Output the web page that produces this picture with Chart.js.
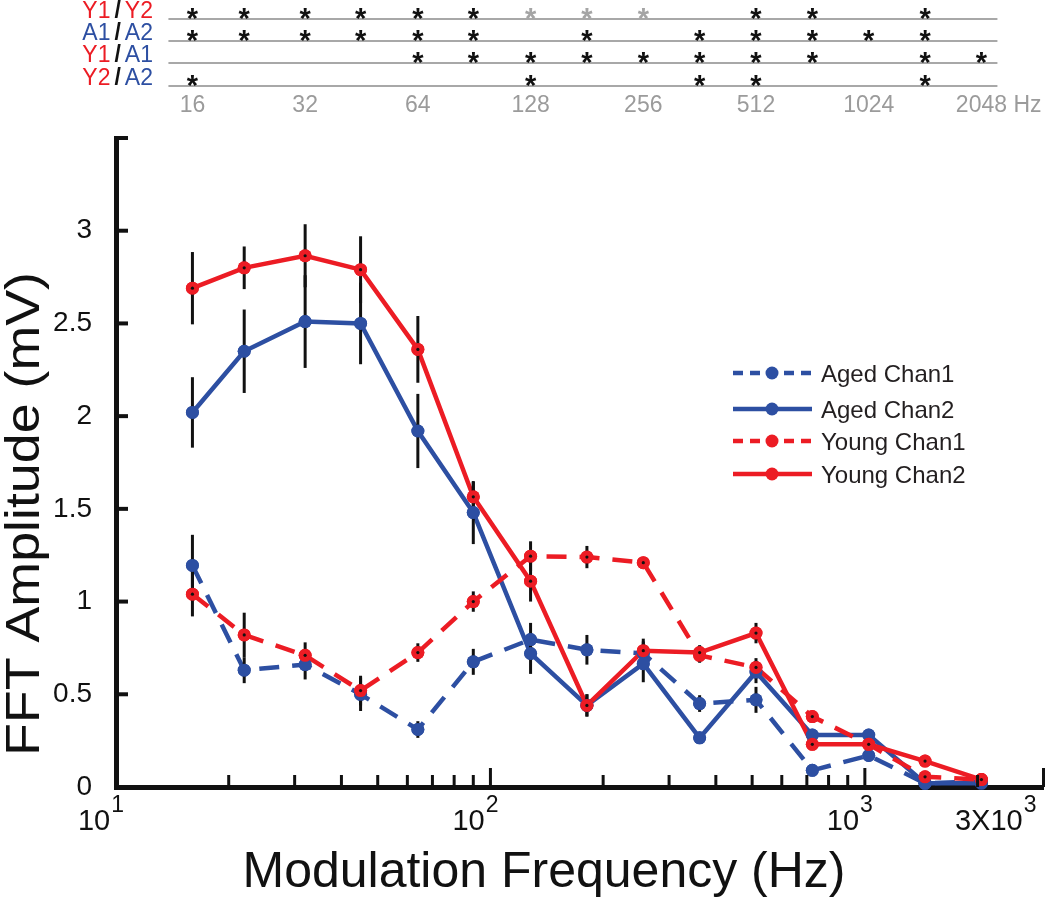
<!DOCTYPE html>
<html>
<head>
<meta charset="utf-8">
<script src="https://cdn.jsdelivr.net/npm/chart.js@4.4.1/dist/chart.umd.min.js"></script>
<style>
html,body{margin:0;padding:0;background:#fff;}
canvas{display:block;}
</style>
</head>
<body>
<canvas id="c" width="1050" height="899"></canvas>
<script>
// ---------------- DATA ----------------
const freqs = [16, 22, 32, 45, 64, 90, 128, 181, 256, 362, 512, 724, 1024, 1448, 2048];

const agedChan1     = [1.195, 0.63, 0.66, 0.50, 0.31, 0.675, 0.795, 0.74, 0.72, 0.45, 0.47, 0.09, 0.17, 0.02, 0.03];
const agedChan1Err  = [0.165, 0.07, 0.08, 0.09, 0.045, 0.07, 0.09, 0.08, 0.08, 0.045, 0.07, 0.02, 0.02, 0.01, 0.01];
const agedChan2     = [2.02, 2.35, 2.51, 2.50, 1.92, 1.48, 0.72, 0.44, 0.665, 0.265, 0.62, 0.28, 0.28, 0.02, 0.02];
const agedChan2Err  = [0.19, 0.225, 0.25, 0.22, 0.20, 0.17, 0.11, 0.06, 0.10, 0.03, 0.06, 0.02, 0.03, 0.01, 0.01];
const youngChan1    = [1.04, 0.82, 0.71, 0.52, 0.725, 1.00, 1.245, 1.24, 1.21, 0.71, 0.645, 0.38, 0.23, 0.055, 0.04];
const youngChan1Err = [0.12, 0.12, 0.07, 0.08, 0.05, 0.055, 0.08, 0.06, 0.03, 0.04, 0.05, 0.02, 0.02, 0.01, 0.01];
const youngChan2    = [2.69, 2.80, 2.865, 2.79, 2.36, 1.565, 1.11, 0.44, 0.735, 0.725, 0.83, 0.23, 0.23, 0.14, 0.04];
const youngChan2Err = [0.195, 0.115, 0.17, 0.18, 0.18, 0.08, 0.11, 0.06, 0.05, 0.04, 0.055, 0.02, 0.02, 0.01, 0.01];

const seriesLabels = ['Aged Chan1', 'Aged Chan2', 'Young Chan1', 'Young Chan2'];

const yTickValues = [0, 0.5, 1, 1.5, 2, 2.5, 3, 3.5];
const xMajorTicks = [10, 100, 1000, 3000];
const xTickBase   = ['10', '10', '10', '3X10'];
const xTickExp    = ['1', '2', '3', '3'];
const xMinorTicks = [20, 30, 40, 50, 60, 70, 80, 90, 200, 300, 400, 500, 600, 700, 800, 900, 2000];

// significance table: 1 = black asterisk, 2 = grey asterisk, 0 = none
const sigRowLabels = [['Y1', 'Y2'], ['A1', 'A2'], ['Y1', 'A1'], ['Y2', 'A2']];
const sigY1Y2 = [1, 1, 1, 1, 1, 1, 2, 2, 2, 0, 1, 1, 0, 1, 0];
const sigA1A2 = [1, 1, 1, 1, 1, 1, 0, 1, 0, 1, 1, 1, 1, 1, 0];
const sigY1A1 = [0, 0, 0, 0, 1, 1, 1, 1, 1, 1, 1, 1, 0, 1, 1];
const sigY2A2 = [1, 0, 0, 0, 0, 0, 1, 0, 0, 1, 1, 0, 0, 1, 0];
const tableTickFreqs  = [16, 32, 64, 128, 256, 512, 1024, 2048];
const tableTickLabels = ['16', '32', '64', '128', '256', '512', '1024', '2048'];

// ---------------- STYLE ----------------
const FONT = "'Liberation Sans', Arial, Helvetica, sans-serif";
const BLUE = '#2D4FA2';
const RED = '#EC1C24';
const GREY = '#9B9B9B';
const INK = '#111111';

function mk(label, vals, errs, color, dashed, order) {
  return {
    label,
    data: freqs.map((f, i) => ({ x: f, y: vals[i] })),
    err: errs,
    dashed,
    borderColor: color,
    backgroundColor: color,
    borderWidth: 4.5,
    borderDash: dashed ? [20, 13] : [],
    borderCapStyle: 'butt',
    pointRadius: 6.5,
    pointHoverRadius: 6.5,
    pointBackgroundColor: color,
    pointBorderColor: color,
    pointBorderWidth: 0,
    tension: 0,
    fill: false,
    order
  };
}

const datasets = [
  mk(seriesLabels[0], agedChan1, agedChan1Err, BLUE, true, 3),
  mk(seriesLabels[1], agedChan2, agedChan2Err, BLUE, false, 2),
  mk(seriesLabels[2], youngChan1, youngChan1Err, RED, true, 1),
  mk(seriesLabels[3], youngChan2, youngChan2Err, RED, false, 0)
];

// error bars + markers on top
const overlay = {
  id: 'overlay',
  afterDatasetsDraw(chart) {
    const ctx = chart.ctx, xs = chart.scales.x, ys = chart.scales.y;
    ctx.save();
    ctx.strokeStyle = INK;
    ctx.lineWidth = 3;
    ctx.setLineDash([]);
    chart.data.datasets.forEach(ds => {
      ds.data.forEach((p, i) => {
        const e = ds.err[i];
        const x = xs.getPixelForValue(p.x);
        ctx.beginPath();
        ctx.moveTo(x, ys.getPixelForValue(p.y - e));
        ctx.lineTo(x, ys.getPixelForValue(p.y + e));
        ctx.stroke();
      });
    });
    const metas = chart.getSortedVisibleDatasetMetas();
    for (let k = metas.length - 1; k >= 0; k--) {
      const m = metas[k];
      const ds = chart.data.datasets[m.index];
      m.data.forEach(pt => {
        pt.draw(ctx, chart.chartArea);
        if (ds.borderColor === RED) {
          ctx.fillStyle = INK;
          ctx.beginPath();
          ctx.arc(pt.x, pt.y, 1.6, 0, Math.PI * 2);
          ctx.fill();
        }
      });
    }
    ctx.restore();
  }
};

// axes decorations, titles, legend, significance table
const decor = {
  id: 'decor',
  afterDraw(chart) {
    const ctx = chart.ctx, xs = chart.scales.x, ys = chart.scales.y;
    const area = chart.chartArea;
    ctx.save();
    ctx.setLineDash([]);
    // y ticks (inward)
    ctx.strokeStyle = INK;
    ctx.lineWidth = 4;
    yTickValues.forEach(v => {
      if (v === 0) return;
      const y = ys.getPixelForValue(v);
      ctx.beginPath();
      ctx.moveTo(area.left - 2, y);
      ctx.lineTo(area.left + 12, y);
      ctx.stroke();
    });
    // x ticks (inward)
    ctx.lineWidth = 3;
    xMinorTicks.forEach(v => {
      const x = xs.getPixelForValue(v);
      ctx.beginPath();
      ctx.moveTo(x, area.bottom);
      ctx.lineTo(x, area.bottom - 12);
      ctx.stroke();
    });
    xMajorTicks.forEach(v => {
      if (v === 10) return;
      const x = xs.getPixelForValue(v);
      ctx.beginPath();
      ctx.moveTo(x, area.bottom);
      ctx.lineTo(x, area.bottom - 19);
      ctx.stroke();
    });
    // x tick labels with superscripts
    ctx.fillStyle = INK;
    ctx.textBaseline = 'alphabetic';
    xMajorTicks.forEach((v, i) => {
      const x = xs.getPixelForValue(v);
      ctx.font = '29px ' + FONT;
      const wb = ctx.measureText(xTickBase[i]).width;
      ctx.font = '23px ' + FONT;
      const we = ctx.measureText(xTickExp[i]).width;
      const right = (i === xMajorTicks.length - 1) ? x - 8 : x + 7;
      const start = right - wb - we;
      ctx.textAlign = 'left';
      ctx.font = '29px ' + FONT;
      ctx.fillText(xTickBase[i], start, 830);
      ctx.font = '23px ' + FONT;
      ctx.fillText(xTickExp[i], start + wb + 1, 812);
    });
    // x title
    ctx.font = '50px ' + FONT;
    ctx.textAlign = 'center';
    ctx.fillText('Modulation Frequency (Hz)', 544, 887);
    // y title (slightly stretched along its length, as in the original)
    ctx.save();
    ctx.translate(39, 514);
    ctx.rotate(-Math.PI / 2);
    ctx.font = '49px ' + FONT;
    const yTitle = 'FFT Amplitude (mV)';
    const wt = ctx.measureText(yTitle).width;
    ctx.scale(484 / wt, 1);
    ctx.textAlign = 'center';
    ctx.textBaseline = 'alphabetic';
    ctx.fillText(yTitle, 0, 0);
    ctx.restore();

    // legend
    const legendColors = [BLUE, BLUE, RED, RED];
    const legendDashed = [true, false, true, false];
    const legendY = [373, 409, 441, 474];
    for (let i = 0; i < 4; i++) {
      const y = legendY[i];
      ctx.strokeStyle = legendColors[i];
      ctx.lineWidth = 4.5;
      ctx.setLineDash(legendDashed[i] ? [10, 7] : []);
      ctx.beginPath();
      ctx.moveTo(733, y);
      ctx.lineTo(812, y);
      ctx.stroke();
      ctx.setLineDash([]);
      ctx.fillStyle = legendColors[i];
      ctx.beginPath();
      ctx.arc(772, y, 6.5, 0, Math.PI * 2);
      ctx.fill();
      ctx.fillStyle = '#231F20';
      ctx.font = '24px ' + FONT;
      ctx.textAlign = 'left';
      ctx.textBaseline = 'alphabetic';
      ctx.fillText(seriesLabels[i], 821, y + 9);
    }

    // significance table
    const rows = [sigY1Y2, sigA1A2, sigY1A1, sigY2A2];
    const lineY = [19, 41, 63, 86];
    const xL = xs.getPixelForValue(tableTickFreqs[0]) - 24;
    const xR = xs.getPixelForValue(tableTickFreqs[tableTickFreqs.length - 1]) + 16;
    rows.forEach((row, r) => {
      const ly = lineY[r];
      ctx.strokeStyle = '#A8A8A8';
      ctx.lineWidth = 2;
      ctx.beginPath();
      ctx.moveTo(xL, ly);
      ctx.lineTo(xR, ly);
      ctx.stroke();
      // row label  e.g. Y1 / Y2
      const [a, b] = sigRowLabels[r];
      const colA = a[0] === 'Y' ? RED : BLUE;
      const colB = b[0] === 'Y' ? RED : BLUE;
      ctx.textAlign = 'left';
      ctx.textBaseline = 'alphabetic';
      ctx.font = '23px ' + FONT;
      const wB = ctx.measureText(b).width;
      const wA = ctx.measureText(a).width;
      ctx.font = 'bold 23px ' + FONT;
      const wS = ctx.measureText('/').width;
      let xr = 153;
      ctx.font = '23px ' + FONT;
      ctx.fillStyle = colB;
      ctx.fillText(b, xr - wB, ly - 1);
      xr -= wB + 4;
      ctx.font = 'bold 23px ' + FONT;
      ctx.fillStyle = INK;
      ctx.fillText('/', xr - wS, ly - 1);
      xr -= wS + 4;
      ctx.font = '23px ' + FONT;
      ctx.fillStyle = colA;
      ctx.fillText(a, xr - wA, ly - 1);
      // asterisks
      ctx.font = 'bold 29px ' + FONT;
      ctx.textAlign = 'center';
      row.forEach((s, i) => {
        if (!s) return;
        ctx.fillStyle = s === 2 ? '#A5A5A5' : INK;
        ctx.fillText('*', xs.getPixelForValue(freqs[i]), ly + 9);
      });
    });
    // table frequency labels
    ctx.fillStyle = GREY;
    ctx.font = '23px ' + FONT;
    ctx.textAlign = 'center';
    tableTickFreqs.forEach((f, i) => {
      const x = xs.getPixelForValue(f);
      if (i === tableTickFreqs.length - 1) {
        const w = ctx.measureText(tableTickLabels[i]).width;
        ctx.textAlign = 'left';
        ctx.fillText(tableTickLabels[i] + ' Hz', x - w / 2, 112);
      } else {
        ctx.fillText(tableTickLabels[i], x, 112);
      }
    });
    ctx.restore();
  }
};

new Chart(document.getElementById('c'), {
  type: 'line',
  data: { datasets },
  options: {
    responsive: false,
    animation: false,
    devicePixelRatio: 1,
    layout: { padding: { top: 138, right: 5, left: 0, bottom: 0 } },
    plugins: { legend: { display: false }, tooltip: { enabled: false } },
    events: [],
    scales: {
      x: {
        type: 'logarithmic',
        min: 10,
        max: 3000,
        grid: { display: false, drawTicks: false },
        border: { display: true, width: 5, color: INK },
        ticks: { display: false },
        afterFit(s) { s.height = 112; }
      },
      y: {
        type: 'linear',
        min: 0,
        max: 3.5,
        grid: { display: false, drawTicks: false },
        border: { display: true, width: 5, color: INK },
        afterBuildTicks(s) { s.ticks = yTickValues.map(v => ({ value: v })); },
        ticks: {
          color: INK,
          padding: 24,
          font: { family: FONT, size: 28 },
          callback: v => (v > 3 ? '' : String(v))
        },
        afterFit(s) { s.width = 116; }
      }
    }
  },
  plugins: [overlay, decor]
});
</script>
</body>
</html>
